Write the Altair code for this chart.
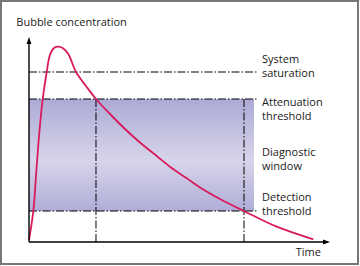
import altair as alt
import pandas as pd

# ---- data (time and concentration in arbitrary units) ----
curve_time = [0, 1.43, 2.43, 3.43, 4.57, 5.9, 7.0, 8.33, 9.77, 11.33, 13.1, 15.67, 19.0,
              22.33, 27.0, 32.0, 37.0, 42.57, 47.33, 52.57, 57.0, 63.67, 71.43, 82.57, 94.77]
curve_conc = [1.0, 15.35, 35.0, 54.5, 71.5, 85.0, 93.6, 97.0, 97.65, 96.9, 94.0, 85.0, 78.0,
              71.5, 64.0, 56.5, 49.75, 43.0, 37.25, 31.85, 27.25, 21.5, 15.65, 7.65, 1.35]

threshold_names = ["System saturation", "Attenuation threshold", "Detection threshold"]
threshold_levels = [85.0, 71.5, 15.5]
threshold_end = 76.0
window_end = 75.0
window_times = [22.33, 71.67]

right_labels = ["System\nsaturation", "Attenuation\nthreshold", "Diagnostic\nwindow", "Detection\nthreshold"]
right_label_levels = [89.65, 68.0, 42.85, 20.65]
right_label_time = 77.67
y_title = "Bubble concentration"
x_title = "Time"
axis_time_end = 100.33
axis_conc_end = 102.5

# ---- scales: map the whole 360x266 canvas ----
xs = alt.Scale(domain=[-29 / 3, 331 / 3], nice=False, zero=False)
ys = alt.Scale(domain=[-12, 121], nice=False, zero=False)
X = lambda f: alt.X(f, type="quantitative", scale=xs, axis=None)
Y = lambda f: alt.Y(f, type="quantitative", scale=ys, axis=None)

one = pd.DataFrame({"d": [0]})

frame = alt.Chart(one).mark_rect(fill=None, stroke="#787878", strokeWidth=2).encode(
    x=alt.value(1), x2=alt.value(358), y=alt.value(1), y2=alt.value(264)
)

win = pd.DataFrame({"t0": [0.0], "t1": [window_end], "lo": [threshold_levels[2]], "hi": [threshold_levels[1]]})
box = alt.Chart(win).mark_rect(
    fill=alt.Gradient(
        gradient="linear",
        stops=[
            alt.GradientStop(color="#acaad5", offset=0),
            alt.GradientStop(color="#d7d5ea", offset=0.55),
            alt.GradientStop(color="#afadd7", offset=1),
        ],
        x1=0, x2=0, y1=0, y2=1,
    )
).encode(x=X("t0"), x2="t1", y=Y("hi"), y2="lo")

thr = pd.DataFrame({"name": threshold_names, "level": threshold_levels,
                    "t0": [0.0] * 3, "t1": [threshold_end] * 3})
hlines = alt.Chart(thr).mark_rule(color="black", strokeWidth=1, strokeDash=[8, 2, 1.5, 2]).encode(
    x=X("t0"), x2="t1", y=Y("level")
)

vl = pd.DataFrame({"t": window_times, "lo": [0.0, 0.0], "hi": [threshold_levels[1]] * 2})
vlines = alt.Chart(vl).mark_rule(color="black", strokeWidth=1, strokeDash=[8, 2, 1.5, 2]).encode(
    x=X("t"), y=Y("lo"), y2="hi"
)

cdf = pd.DataFrame({"t": curve_time, "c": curve_conc})
curve = alt.Chart(cdf).mark_line(color="#d81b5c", strokeWidth=1.8, interpolate="catmull-rom").encode(
    x=X("t"), y=Y("c")
)

ax_df = pd.DataFrame({"t0": [0.0, 0.0], "t1": [axis_time_end - 2, 0.0],
                      "c0": [0.0, 0.0], "c1": [0.0, axis_conc_end - 3]})
axes = alt.Chart(ax_df).mark_rule(color="black", strokeWidth=1.4).encode(
    x=X("t0"), x2="t1", y=Y("c0"), y2="c1"
)

arrow_up = alt.Chart(pd.DataFrame({"t": [0.0], "c": [axis_conc_end - 1.75]})).mark_point(
    shape="M0,-1L0.7,1L-0.7,1Z", filled=True, color="black", size=49, opacity=1
).encode(x=X("t"), y=Y("c"))
arrow_right = alt.Chart(pd.DataFrame({"t": [axis_time_end - 1.17], "c": [0.0]})).mark_point(
    shape="M1,0L-1,-0.7L-1,0.7Z", filled=True, color="black", size=49, opacity=1
).encode(x=X("t"), y=Y("c"))

txt_style = dict(font="Open Sans", fontSize=11, color="#1a1a1a", align="left",
                 baseline="alphabetic", lineHeight=14)

lab_df = pd.DataFrame({"label": right_labels, "c": right_label_levels,
                       "t": [right_label_time] * len(right_labels)})
labels = alt.Chart(lab_df).mark_text(**txt_style).encode(
    x=X("t"), y=Y("c"), text=alt.Text("label:N")
).transform_calculate(label="split(datum.label, '\\n')")

titles_df = pd.DataFrame({"label": [y_title, x_title], "t": [-4.23, 88.9], "c": [108.25, -7.15]})
titles = alt.Chart(titles_df).mark_text(**txt_style).encode(
    x=X("t"), y=Y("c"), text="label:N"
)

chart = alt.layer(box, hlines, vlines, curve, axes, arrow_up, arrow_right, labels, titles, frame).properties(
    width=360, height=266, padding=0, autosize=alt.AutoSizeParams(type="none")
).configure_view(stroke=None).configure(background="white")

chart.save("out.html", embed_options={"renderer": "svg", "actions": False})
